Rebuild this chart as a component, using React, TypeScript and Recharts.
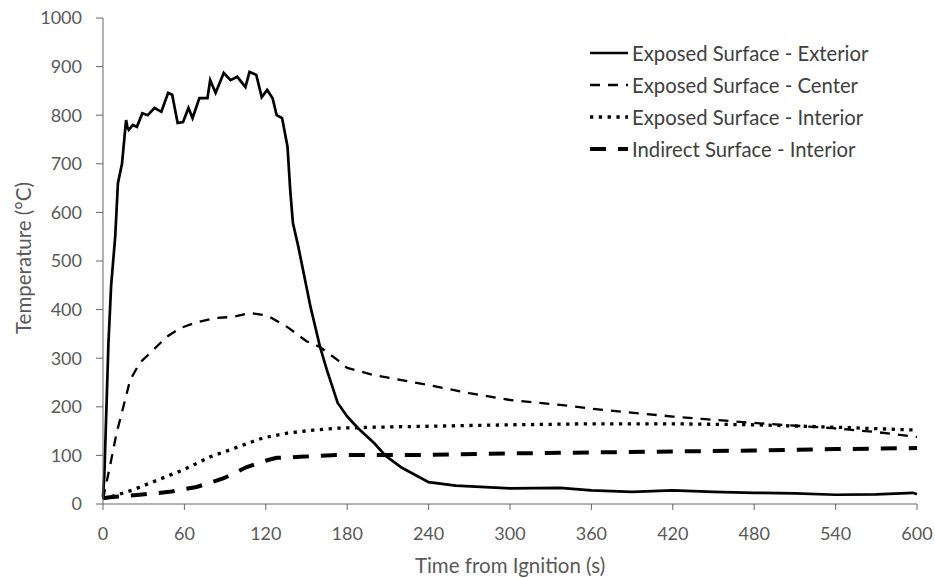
import { Label, Line, LineChart, XAxis, YAxis } from "recharts";

const FONT = "Lato, 'Liberation Sans', sans-serif";
const TEXT = "#595959";

const xTicks = [0, 60, 120, 180, 240, 300, 360, 420, 480, 540, 600];
const yTicks = [0, 100, 200, 300, 400, 500, 600, 700, 800, 900, 1000];

// exposed surface - exterior
const exteriorTime = [
  0, 1, 2, 4, 6, 9, 11, 14, 17, 18, 19, 22, 25, 29, 33, 38, 43, 48, 51, 55, 59, 63, 66, 71, 77, 79, 83,
  89, 94, 99, 105, 108, 113, 117, 121, 125, 128, 132, 136, 138, 140, 144, 153, 160, 165, 173, 180, 188,
  200, 208, 220, 240, 260, 300, 337, 360, 390, 420, 450, 480, 510, 540, 570, 597, 600
];
const exteriorTemp = [
  15, 60, 150, 330, 450, 550, 660, 700, 790, 775, 770, 780, 776, 804, 800, 815, 807, 846, 842, 784, 786,
  815, 794, 835, 835, 872, 846, 887, 872, 879, 858, 889, 883, 837, 852, 835, 800, 794, 735, 646, 578, 529,
  405, 323, 276, 208, 180, 156, 125, 100, 75, 45, 38, 32, 33, 28, 25, 28, 25, 23, 22, 19, 20, 23, 20
];

// exposed surface - center
const centerTime = [
  0, 5, 10, 15, 20, 27, 37, 47, 57, 69, 84, 96, 108, 118, 123, 136, 150, 160, 173, 180, 200, 240, 270,
  300, 337, 360, 386, 420, 442, 484, 538, 570, 600
];
const centerTemp = [
  10, 76, 146, 200, 255, 290, 317, 344, 362, 374, 383, 385, 393, 389, 385, 364, 335, 323, 296, 280, 265,
  245, 228, 214, 204, 196, 189, 180, 175, 166, 156, 148, 138
];

// exposed surface - interior
const interiorTime = [0, 5, 22, 40, 59, 79, 99, 118, 136, 155, 173, 200, 240, 300, 360, 420, 480, 540, 600];
const interiorTemp = [12, 14, 29, 49, 70, 97, 117, 136, 146, 152, 156, 158, 160, 163, 165, 165, 163, 158, 152];

// indirect surface - interior
const indirectTime = [0, 5, 27, 49, 69, 89, 106, 121, 128, 145, 172, 240, 300, 360, 420, 480, 540, 600];
const indirectTemp = [12, 14, 19, 25, 35, 53, 76, 90, 95, 97, 101, 101, 104, 106, 108, 110, 113, 115];

function toRows(times: number[], temps: number[]) {
  return times.map((t, i) => ({ t, temp: temps[i] }));
}

const series = [
  { name: "Exposed Surface - Exterior", data: toRows(exteriorTime, exteriorTemp), width: 2.7, dash: undefined },
  { name: "Exposed Surface - Center", data: toRows(centerTime, centerTemp), width: 2.3, dash: "10 8" },
  { name: "Exposed Surface - Interior", data: toRows(interiorTime, interiorTemp), width: 3.3, dash: "3.3 5.5" },
  { name: "Indirect Surface - Interior", data: toRows(indirectTime, indirectTemp), width: 4, dash: "16 12" }
];

function LegendBox() {
  return (
    <div
      style={{
        position: "absolute",
        left: 590,
        top: 37,
        fontFamily: FONT,
        fontSize: 20.3,
        color: "#404040"
      }}
    >
      {series.map((s) => (
        <div key={s.name} style={{ height: 32, display: "flex", alignItems: "center", whiteSpace: "nowrap" }}>
          <svg width={40} height={20} style={{ marginRight: 2 }}>
            <line x1={0} x2={38} y1={10} y2={10} stroke="#000" strokeWidth={s.width} strokeDasharray={s.dash} />
          </svg>
          <span>{s.name}</span>
        </div>
      ))}
    </div>
  );
}

export default function App() {
  const tickStyle = { fill: TEXT, fontSize: 18, fontFamily: FONT };

  return (
    <div style={{ position: "absolute", left: 0, top: 0, width: 935, height: 578, background: "#fff" }}>
      <LineChart width={935} height={578} margin={{ top: 18, right: 18, bottom: 0, left: 0 }}>
        <XAxis
          dataKey="t"
          type="number"
          domain={[0, 600]}
          ticks={xTicks}
          height={74}
          tick={tickStyle}
          tickSize={6}
          tickMargin={17}
          stroke="#666"
          allowDuplicatedCategory={false}
        >
          <Label
            value="Time from Ignition (s)"
            position="insideBottom"
            offset={5}
            style={{ fill: TEXT, fontSize: 20.5, fontFamily: FONT }}
          />
        </XAxis>
        <YAxis
          dataKey="temp"
          type="number"
          domain={[0, 1000]}
          ticks={yTicks}
          width={103}
          tick={tickStyle}
          tickSize={7}
          tickMargin={14}
          stroke="#666"
          label={{
            content: () => (
              <text
                x={23}
                y={258}
                transform="rotate(-90, 23, 258)"
                textAnchor="middle"
                dominantBaseline="central"
                fill={TEXT}
                fontSize={20.5}
                fontFamily={FONT}
              >
                Temperature (°C)
              </text>
            )
          }}
        />
        {series.map((s) => (
          <Line
            key={s.name}
            data={s.data}
            dataKey="temp"
            name={s.name}
            type="linear"
            stroke="#000"
            strokeWidth={s.width}
            strokeDasharray={s.dash}
            dot={false}
            activeDot={false}
            isAnimationActive={false}
          />
        ))}
      </LineChart>
      <LegendBox />
    </div>
  );
}
